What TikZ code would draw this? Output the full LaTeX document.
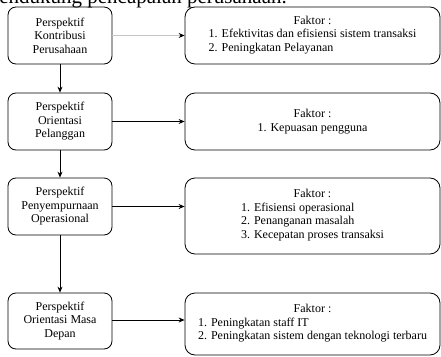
\documentclass[tikz,border=0pt]{standalone}
\usepackage{fontspec}
\setmainfont{Liberation Serif}
\usetikzlibrary{arrows.meta}

\begin{document}
\begin{tikzpicture}[x=1pt,y=-1pt,
  perspektif/.style={draw,line width=0.8pt,rounded corners=8pt,
    minimum width=104pt,align=center,inner sep=1pt,
    font=\fontsize{12}{13.5}\selectfont},
  faktor/.style={draw,line width=0.8pt,rounded corners=10pt,
    minimum width=255pt,align=center,inner sep=1pt,
    font=\fontsize{12}{13.5}\selectfont},
  panah/.style={line width=0.8pt,-{Stealth[length=6pt,width=5pt]}},
  panahabu/.style={panah,draw=gray!45,-{Stealth[length=6pt,width=5pt,black]}}]
  \useasboundingbox (0,0) rectangle (441,356);
  \clip (0,0) rectangle (441,356);

  % judul terpotong di atas
  \node[anchor=base east,inner sep=0pt,font=\fontsize{21}{24}\selectfont]
    (judul) at (287,3.5) {mendukung pencapaian perusahaan.};

  % perspektif
  \node[perspektif,minimum height=57pt] (kontribusi) at (60,35.5)
    {Perspektif\\Kontribusi\\Perusahaan};
  \node[perspektif,minimum height=57pt] (pelanggan) at (60,121.5)
    {Perspektif\\Orientasi\\Pelanggan};
  \node[perspektif,minimum height=57pt] (operasional) at (60,206.5)
    {Perspektif\\Penyempurnaan\\Operasional};
  \node[perspektif,minimum height=56pt] (masadepan) at (60,321)
    {Perspektif\\Orientasi Masa\\Depan};

  % faktor
  \node[faktor,minimum height=57pt] (fkontribusi) at (312.5,35.5)
    {Faktor :\\\begin{tabular}[t]{@{}l@{}}
      1. Efektivitas dan efisiensi sistem transaksi\\
      2. Peningkatan Pelayanan\end{tabular}};
  \node[faktor,minimum height=57pt] (fpelanggan) at (312.5,121.5)
    {Faktor :\\1. Kepuasan pengguna};
  \node[faktor,minimum height=76pt] (foperasional) at (312.5,216)
    {Faktor :\\\begin{tabular}[t]{@{}l@{}}
      1. Efisiensi operasional\\
      2. Penanganan masalah\\
      3. Kecepatan proses transaksi\end{tabular}};
  \node[faktor,minimum height=62pt] (fmasadepan) at (312.5,324)
    {Faktor :\\\begin{tabular}[t]{@{}l@{}}
      1. Peningkatan staff IT\\
      2. Peningkatan sistem dengan teknologi terbaru\end{tabular}};

  % panah
  \draw[panah] (kontribusi) -- (pelanggan);
  \draw[panah] (pelanggan) -- (operasional);
  \draw[panah] (operasional) -- (masadepan);
  \draw[panahabu] (kontribusi) -- (fkontribusi);
  \draw[panah] (pelanggan) -- (fpelanggan);
  \draw[panah] (operasional.east) -- (operasional.east -| foperasional.west);
  \draw[panah] ([yshift=1pt]masadepan.east) -- ([yshift=1pt]masadepan.east -| fmasadepan.west);
\end{tikzpicture}
\end{document}
